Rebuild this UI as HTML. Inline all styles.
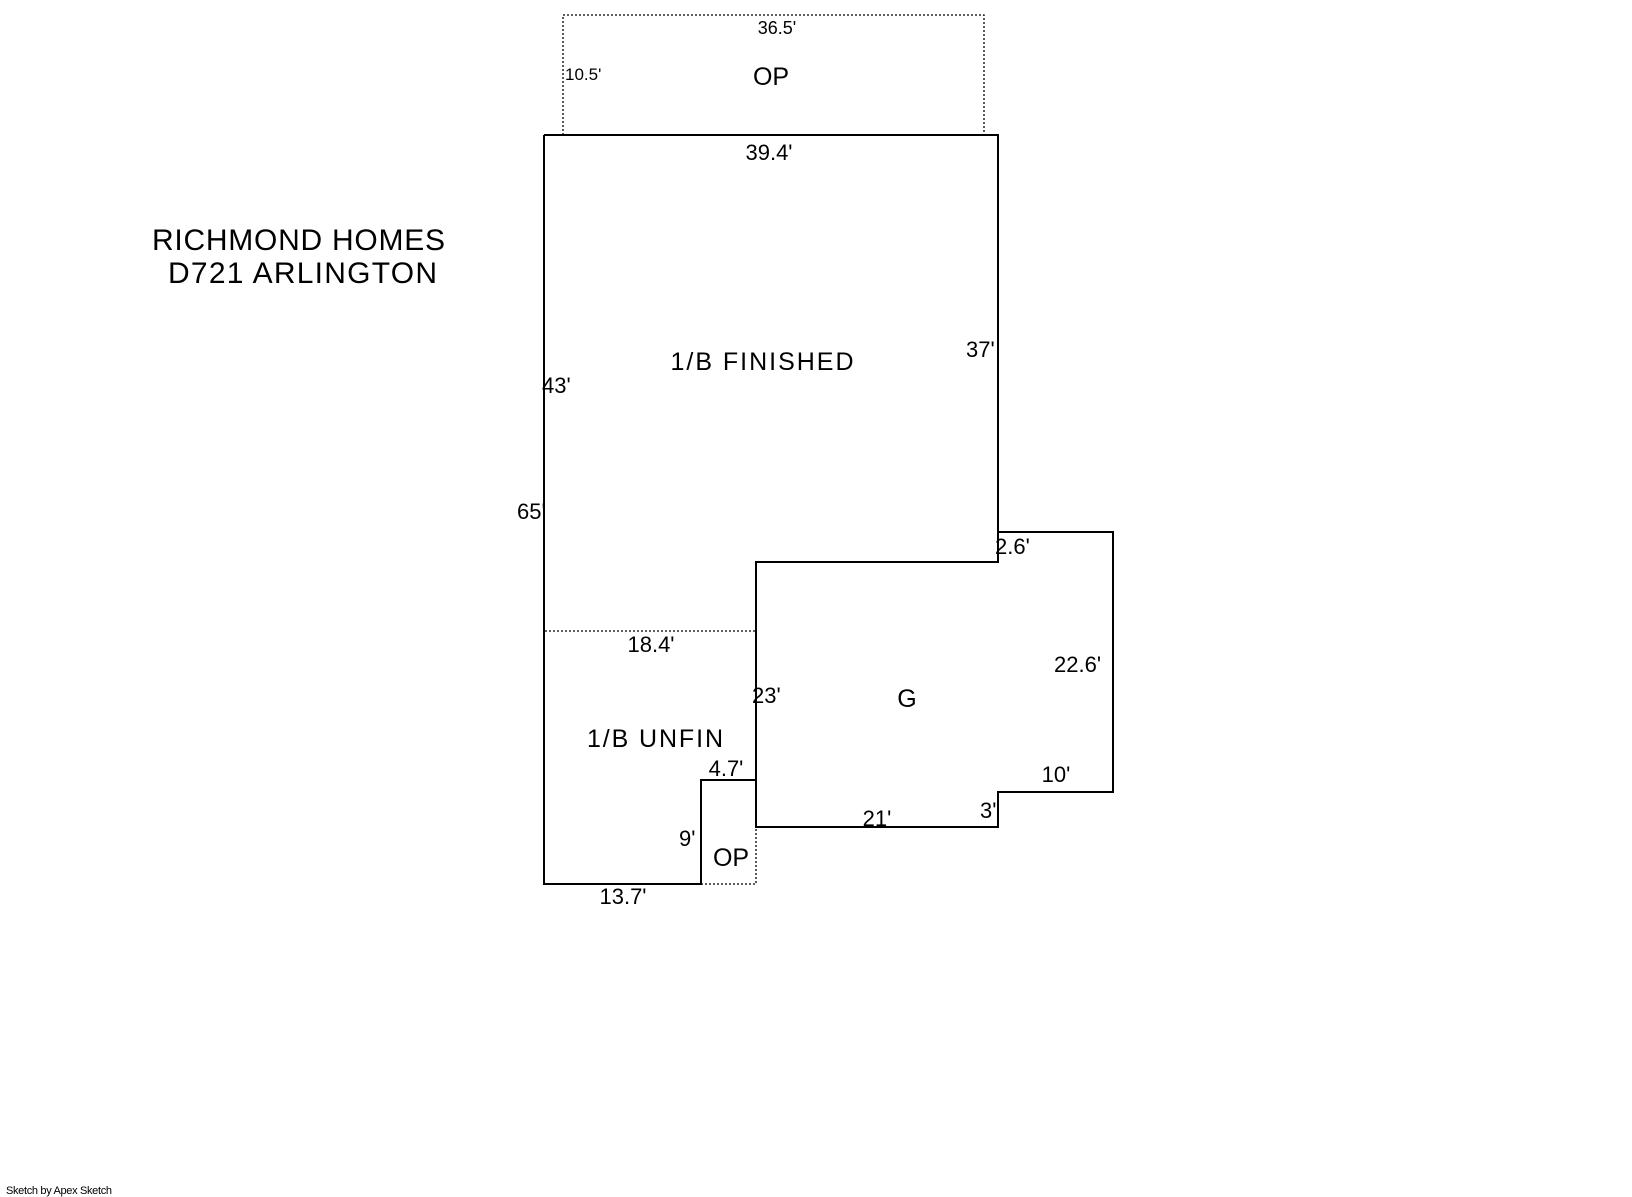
<!DOCTYPE html>
<html><head><meta charset="utf-8"><style>html,body{margin:0;padding:0;background:#fff}svg{display:block}</style></head>
<body>
<svg width="1632" height="1197" viewBox="0 0 1632 1197" xmlns="http://www.w3.org/2000/svg" font-family="'Liberation Sans', 'DejaVu Sans', sans-serif" fill="#000">
<g fill="none" stroke="#000">
<path d="M563 135 V15 H984 V135" stroke-width="1.3" stroke-dasharray="2,2"/>
<path d="M545 631 H756" stroke-width="1.3" stroke-dasharray="2,2"/>
<path d="M701 884 H756 V827" stroke-width="1.3" stroke-dasharray="2,2"/>
<path d="M544 135 H998 V562 H756 V827 H998 V792 H1113 V532 H998" stroke-width="2"/>
<path d="M544 135 V884 H701 V780 H756" stroke-width="2"/>
</g>
<text x="777" y="34" font-size="18" text-anchor="middle">36.5'</text>
<text x="565" y="80" font-size="17">10.5'</text>
<text x="771" y="85" font-size="25" text-anchor="middle">OP</text>
<text x="769" y="160" font-size="22" text-anchor="middle">39.4'</text>
<text x="762" y="370" font-size="25" text-anchor="middle" textLength="183">1/B FINISHED</text>
<text x="966" y="357" font-size="22">37'</text>
<text x="542" y="393" font-size="22">43'</text>
<text x="517" y="519" font-size="22">65'</text>
<text x="995" y="554" font-size="22">2.6'</text>
<text x="651" y="652" font-size="22" text-anchor="middle">18.4'</text>
<text x="752" y="703" font-size="22">23'</text>
<text x="907" y="707" font-size="25" text-anchor="middle">G</text>
<text x="1054" y="672" font-size="22">22.6'</text>
<text x="655" y="747" font-size="25" text-anchor="middle" textLength="136">1/B UNFIN</text>
<text x="726" y="776" font-size="22" text-anchor="middle">4.7'</text>
<text x="1056" y="782" font-size="22" text-anchor="middle">10'</text>
<text x="980" y="818" font-size="22">3'</text>
<text x="877" y="826" font-size="22" text-anchor="middle">21'</text>
<text x="679" y="846" font-size="22">9'</text>
<text x="731" y="866" font-size="25" text-anchor="middle">OP</text>
<text x="623" y="904" font-size="22" text-anchor="middle">13.7'</text>
<text x="152" y="250" font-size="30" textLength="293">RICHMOND HOMES</text>
<text x="168" y="283" font-size="30" textLength="269">D721 ARLINGTON</text>
<text x="6" y="1194" font-size="11" textLength="106">Sketch by Apex Sketch</text>
</svg>
</body></html>
